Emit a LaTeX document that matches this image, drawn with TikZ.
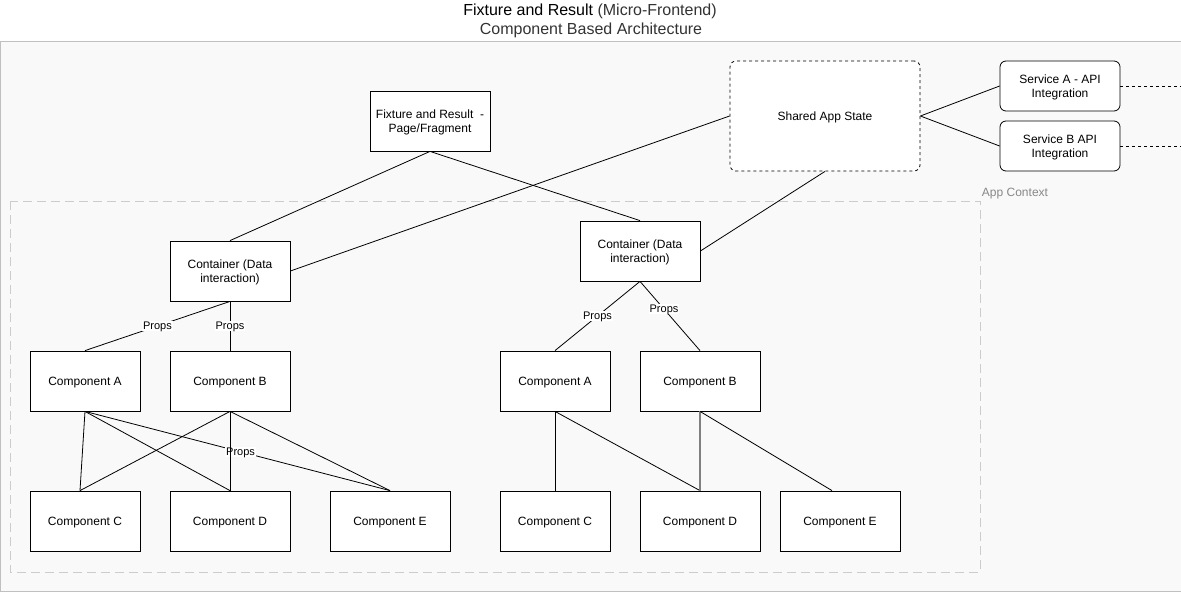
\documentclass[tikz,border=0pt]{standalone}
\usepackage{fontspec}
\setmainfont{Liberation Sans}
\definecolor{canvas}{HTML}{F9F9F9}
\definecolor{frame}{HTML}{C0C0C0}
\definecolor{ctxline}{HTML}{CCCCCC}
\definecolor{ctxtext}{HTML}{888888}
\definecolor{subtitle}{HTML}{333333}
\begin{document}
\begin{tikzpicture}[x=1pt,y=-1pt,
  box/.style={draw=black,line width=0.8pt,fill=white,align=center,inner sep=2pt,text depth=0pt,font=\fontsize{12}{14}\selectfont},
  roundbox/.style={box,rounded corners=6pt},
  edge/.style={draw=black,line width=0.8pt},
  lbl/.style={fill=white,inner sep=1pt,text depth=0pt,font=\fontsize{11}{12}\selectfont}]
\useasboundingbox (0,0) rectangle (1181,592);
% outer frame
\draw[frame,fill=canvas,line width=1pt] (0.5,41) rectangle (1200,591);
% title
\node (title) at (590,11) {\fontsize{16}{18}\selectfont Fixture and Result \textcolor{subtitle}{(Micro-Frontend)}};
\node[text=subtitle] (subtitle) at (591,30) {\fontsize{16}{18}\selectfont Component Based Architecture};
% app context
\draw[ctxline,line width=0.8pt,dash pattern=on 9pt off 5pt] (10,201) rectangle (980,572);
\node[text=ctxtext,text depth=0pt,font=\fontsize{12}{14}\selectfont] (ctx) at (1015,192) {App Context};
% top nodes
\node[box,minimum width=120pt,minimum height=60pt] (page) at (430,121) {Fixture and Result\ \ -\\Page/Fragment};
\node[box,rounded corners=6pt,dashed,minimum width=190pt,minimum height=110pt] (state) at (825,116) {Shared App State};
\node[roundbox,minimum width=120pt,minimum height=50pt] (svca) at (1060,86) {Service A - API\\Integration};
\node[roundbox,minimum width=120pt,minimum height=50pt] (svcb) at (1060,146) {Service B API\\Integration};
\coordinate (ea) at (1181,86);
\coordinate (eb) at (1181,146);
% containers
\node[box,minimum width=120pt,minimum height=60pt] (contL) at (230,271) {Container (Data\\interaction)};
\node[box,minimum width=120pt,minimum height=60pt] (contR) at (640,251) {Container (Data\\interaction)};
% left components
\node[box,minimum width=110pt,minimum height=60pt] (lA) at (85,381) {Component A};
\node[box,minimum width=120pt,minimum height=60pt] (lB) at (230,381) {Component B};
\node[box,minimum width=110pt,minimum height=60pt] (lC) at (85,521) {Component C};
\node[box,minimum width=120pt,minimum height=60pt] (lD) at (230,521) {Component D};
\node[box,minimum width=120pt,minimum height=60pt] (lE) at (390,521) {Component E};
% right components
\node[box,minimum width=110pt,minimum height=60pt] (rA) at (555,381) {Component A};
\node[box,minimum width=120pt,minimum height=60pt] (rB) at (700,381) {Component B};
\node[box,minimum width=110pt,minimum height=60pt] (rC) at (555,521) {Component C};
\node[box,minimum width=120pt,minimum height=60pt] (rD) at (700,521) {Component D};
\node[box,minimum width=120pt,minimum height=60pt] (rE) at (840,521) {Component E};
% edges top
\draw[edge] (page.south) -- (contL.north);
\draw[edge] (page.south) -- (contR.north);
\draw[edge] (state.west) -- (contL.east);
\draw[edge] (state.south) -- (contR.east);
\draw[edge] (state.east) -- (svca.west);
\draw[edge] (state.east) -- (svcb.west);
\draw[black,line width=0.8pt,dashed] (svca.east) -- (ea);
\draw[black,line width=0.8pt,dashed] (svcb.east) -- (eb);
% container to components
\draw[edge] (contL.south) -- node[lbl] {Props} (lA.north);
\draw[edge] (contL.south) -- node[lbl] {Props} (lB.north);
\draw[edge] (contR.south) -- node[lbl] {Props} (rA.north);
\draw[edge] (contR.south) -- node[lbl,pos=0.4] {Props} (rB.north);
% left lower
\draw[edge] (lA.south) -- ([xshift=-5pt]lC.north);
\draw[edge] (lA.south) -- (lD.north);
\draw[edge] (lA.south) -- node[lbl,pos=0.51] {Props} (lE.north);
\draw[edge] (lB.south) -- ([xshift=-5pt]lC.north);
\draw[edge] (lB.south) -- (lD.north);
\draw[edge] (lB.south) -- (lE.north);
% right lower
\draw[edge] (rA.south) -- (rC.north);
\draw[edge] (rA.south) -- (rD.north);
\draw[edge,draw=gray,line width=1.2pt] (rB.south) -- (rD.north);
\draw[edge] (rB.south) -- ([xshift=-8pt]rE.north);
\end{tikzpicture}
\end{document}
